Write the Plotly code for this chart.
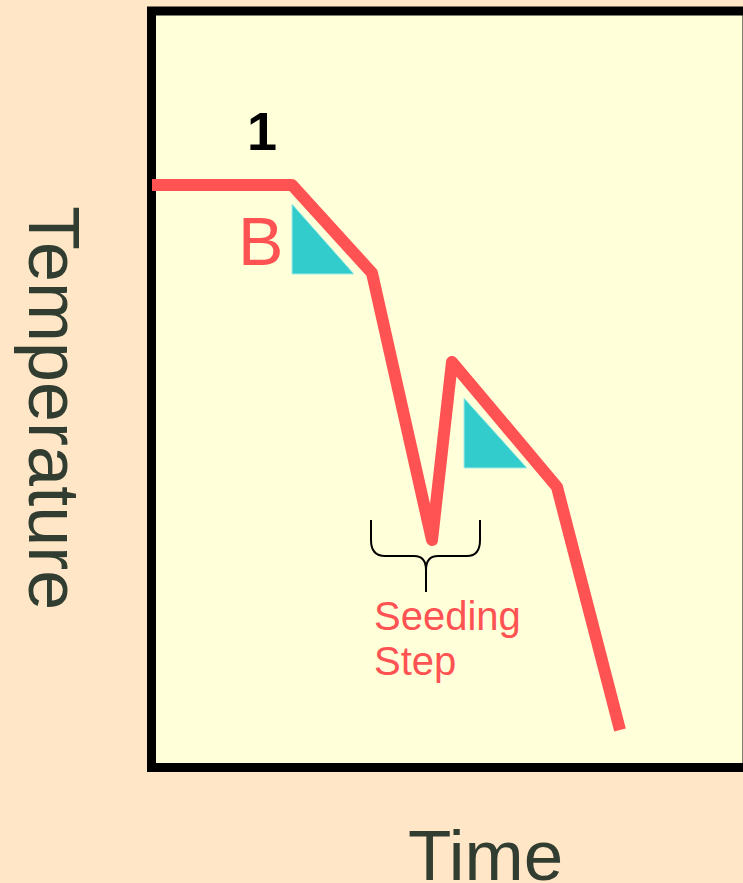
import plotly.graph_objects as go

# ---- data (arbitrary schematic units) ----
time = [0.2, 14.2, 22.2, 28.2, 30.2, 40.7, 47.0]
temperature = [58.5, 58.5, 49.7, 23.0, 40.8, 28.3, 4.0]

tri1_time = [14.2, 14.2, 20.4, 14.2]
tri1_temp = [56.6, 49.6, 49.6, 56.6]
tri2_time = [31.4, 31.4, 37.7, 31.4]
tri2_temp = [37.2, 30.2, 30.2, 37.2]

# brace geometry (time positions and temperature levels)
brace_t = [22.1, 23.5, 26.4, 27.6, 28.8, 31.7, 33.0]
brace_T = [25.0, 23.0, 21.4, 20.0, 17.8]

RED = "#FF5252"
TEAL = "#33CCCC"
PEACH = "#FFE6C7"
YELLOW = "#FFFFDA"
DARK = "#313D31"

fig = go.Figure()

fig.add_trace(go.Scatter(x=tri1_time, y=tri1_temp, mode="lines", fill="toself",
                         fillcolor=TEAL, line=dict(color="#A8EDE6", width=1),
                         hoverinfo="skip", showlegend=False))
fig.add_trace(go.Scatter(x=tri2_time, y=tri2_temp, mode="lines", fill="toself",
                         fillcolor=TEAL, line=dict(color="#A8EDE6", width=1),
                         hoverinfo="skip", showlegend=False))
fig.add_trace(go.Scatter(x=time, y=temperature, mode="lines",
                         line=dict(color=RED, width=12),
                         hoverinfo="skip", showlegend=False))

# frame
fig.add_shape(type="rect", xref="paper", yref="paper",
              x0=151.5/743, x1=747/743, y0=1-767.5/883, y1=1-11/883,
              line=dict(color="black", width=9), fillcolor=YELLOW, layer="below")

# brace
bt, bT = brace_t, brace_T
path = (f"M {bt[0]},{bT[0]} L {bt[0]},{bT[1]} Q {bt[0]},{bT[2]} {bt[1]},{bT[2]} "
        f"L {bt[2]},{bT[2]} Q {bt[3]},{bT[2]} {bt[3]},{bT[3]} L {bt[3]},{bT[4]} "
        f"L {bt[3]},{bT[3]} Q {bt[3]},{bT[2]} {bt[4]},{bT[2]} L {bt[5]},{bT[2]} "
        f"Q {bt[6]},{bT[2]} {bt[6]},{bT[1]} L {bt[6]},{bT[0]}")
fig.add_shape(type="path", xref="x", yref="y", path=path,
              line=dict(color="black", width=2))

FONT = "Liberation Sans, Arial, sans-serif"
fig.add_annotation(x=11.2, y=63.9, text="<b>1</b>", showarrow=False,
                   font=dict(family=FONT, size=54, color="black"))
fig.add_annotation(x=11.0, y=52.9, text="B", showarrow=False,
                   font=dict(family=FONT, size=68, color=RED))
fig.add_annotation(x=22.2, y=15.4, text="Seeding", showarrow=False, xanchor="left",
                   font=dict(family=FONT, size=40, color=RED))
fig.add_annotation(x=22.2, y=10.9, text="Step", showarrow=False, xanchor="left",
                   font=dict(family=FONT, size=40, color=RED))
fig.add_annotation(x=-9.6, y=36.2, text="Temperature", showarrow=False, textangle=90,
                   font=dict(family=FONT, size=72, color=DARK))
fig.add_annotation(x=33.5, y=-8.5, text="Time", showarrow=False,
                   font=dict(family=FONT, size=71, color=DARK))

fig.update_layout(
    width=743, height=883, margin=dict(l=0, r=0, t=0, b=0),
    paper_bgcolor=PEACH, plot_bgcolor=PEACH,
    xaxis=dict(range=[-15, 59.3], visible=False, fixedrange=True),
    yaxis=dict(range=[-11.3, 77], visible=False, fixedrange=True),
)

post = (
    "document.body.style.margin='0';"
    "document.body.style.background='" + PEACH + "';"
    "document.querySelectorAll('.scatterlayer .js-line').forEach(function(p){"
    "p.style.strokeLinejoin='round';});"
)
fig.write_html("out.html", post_script=post, config={"displayModeBar": False})
